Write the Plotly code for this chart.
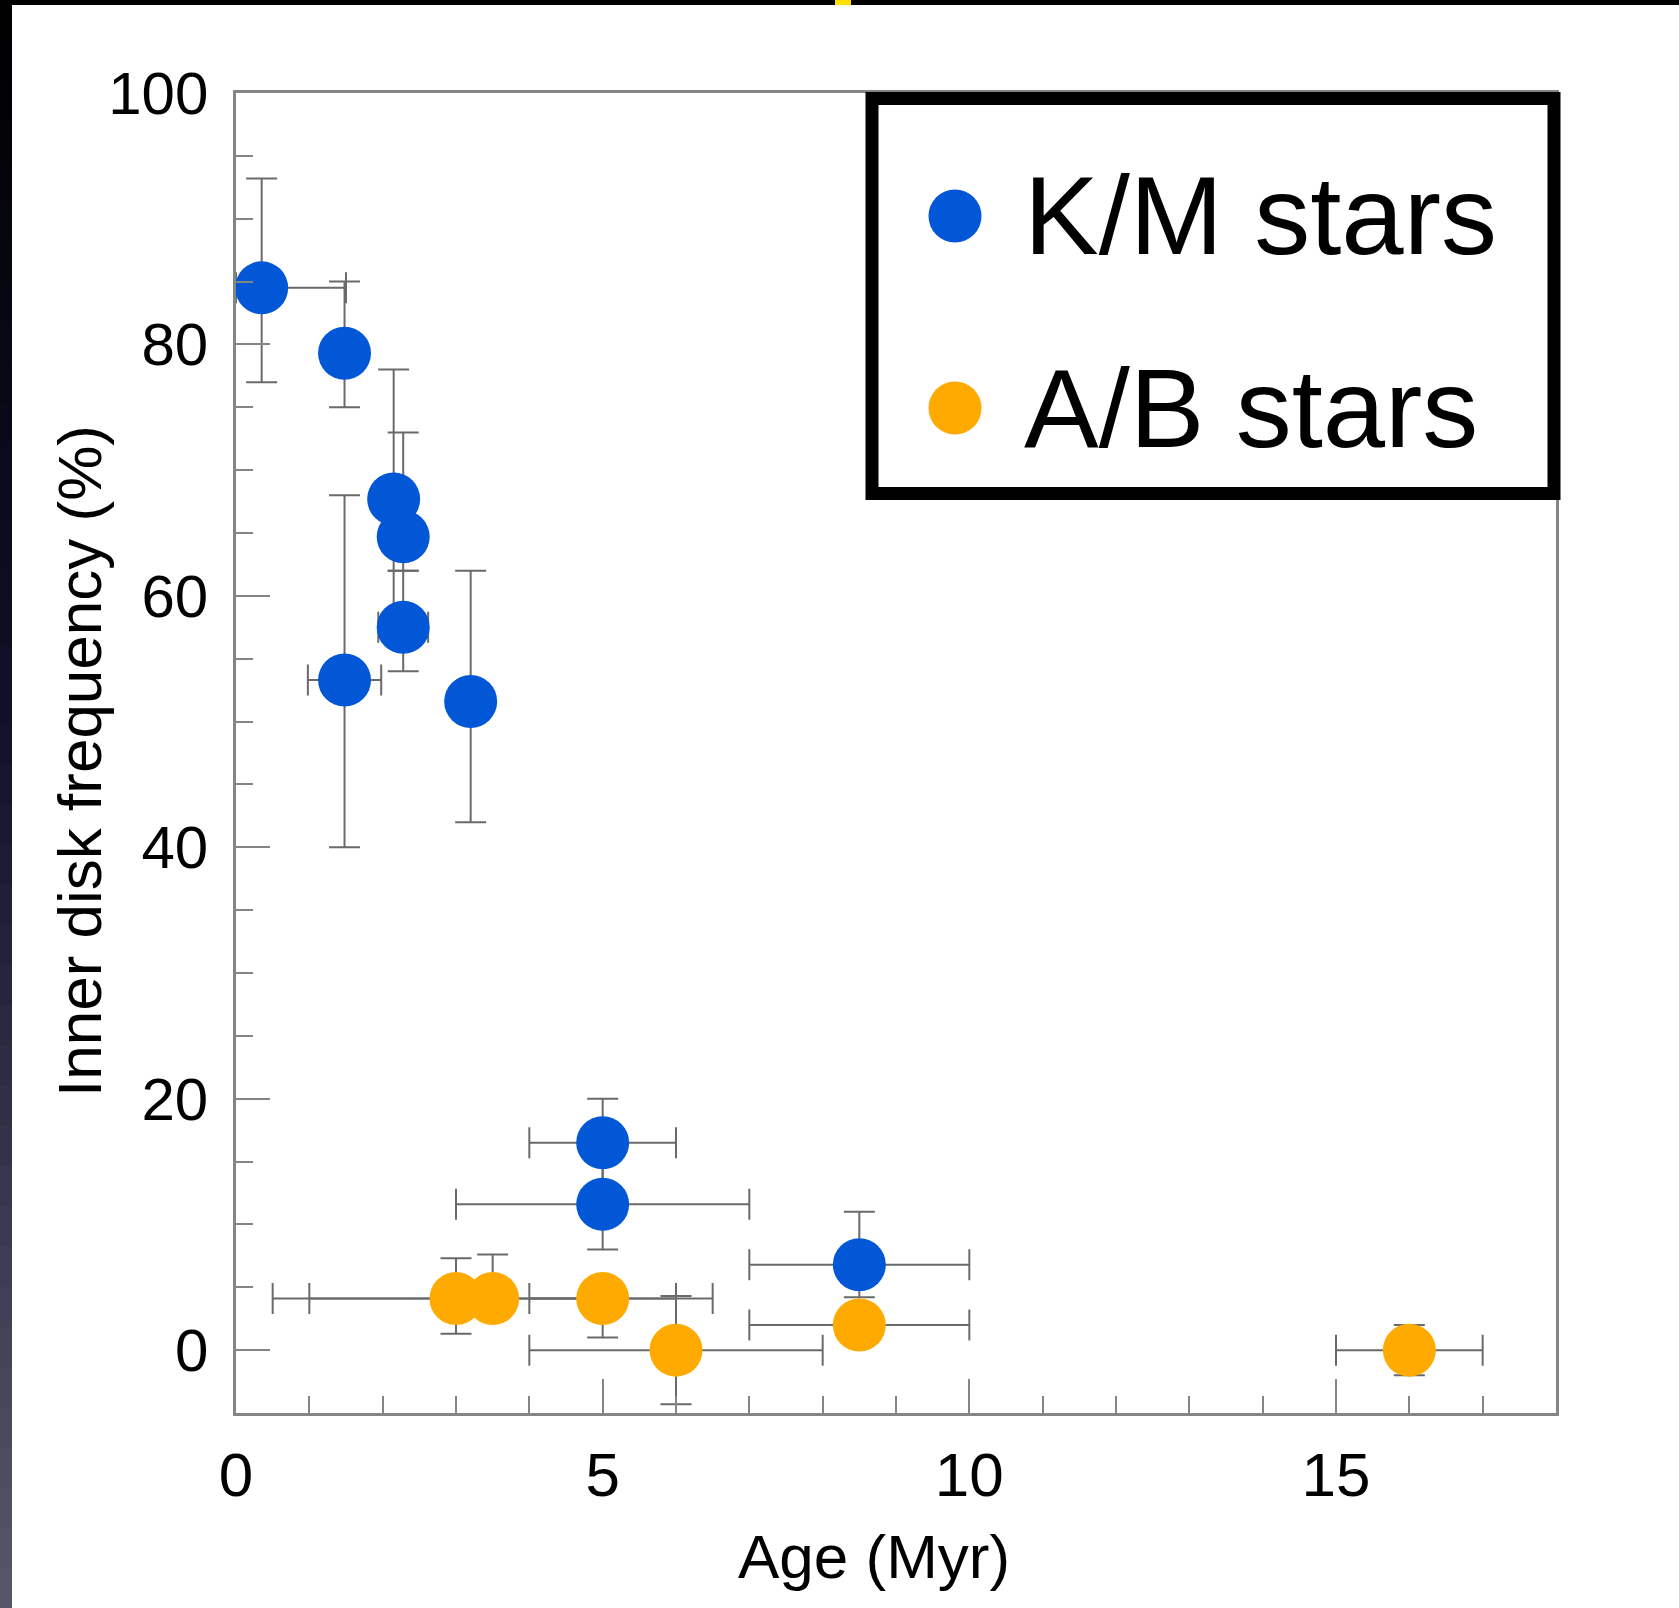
import plotly.graph_objects as go

# ---- data: inner disk frequency vs. cluster age ----
km_age = [0.35, 1.48, 2.15, 2.28, 2.28, 1.48, 3.2, 5.0, 5.0, 8.5]
km_age_hi = [1.15, 0, 0, 0, 0.34, 0.5, 0, 1.0, 2.0, 1.5]
km_age_lo = [0.35, 0, 0, 0, 0.34, 0.5, 0, 1.0, 2.0, 1.5]
km_freq = [84.5, 79.3, 67.7, 64.7, 57.5, 53.3, 51.6, 16.5, 11.6, 6.8]
km_freq_hi = [8.7, 5.7, 10.3, 8.3, 4.5, 14.7, 10.4, 3.5, 3.6, 4.2]
km_freq_lo = [7.5, 4.3, 9.7, 2.7, 3.5, 13.3, 9.6, 3.5, 3.6, 2.6]

ab_age = [3.0, 3.5, 5.0, 6.0, 8.5, 16.0]
ab_age_hi = [2.0, 3.0, 1.0, 2.0, 1.5, 1.0]
ab_age_lo = [2.0, 3.0, 1.0, 2.0, 1.5, 1.0]
ab_freq = [4.1, 4.1, 4.1, 0.0, 2.0, 0.0]
ab_freq_hi = [3.2, 3.5, 0, 4.3, 0, 2.0]
ab_freq_lo = [2.8, 0, 3.1, 4.3, 0, 2.0]

series_names = ["K/M stars", "A/B stars"]
series_colors = ["#0257D6", "#FFAA00"]

x_ticks = [0, 5, 10, 15]
y_ticks = [0, 20, 40, 60, 80, 100]

# ---- page geometry (pixels) ----
FIG_W, FIG_H = 1679, 1608
L, T, W, H = 236, 93, 1320, 1320


def px_x(p):
    return (p - L) / W


def px_y(p):
    return 1 - (p - T) / H


FONT = "Liberation Sans, Arial, Helvetica, sans-serif"
BAR_COLOR = "#6a6a6a"
AXIS_COLOR = "#858585"
MARKER_SIZE = 53


def err(hi, lo):
    return dict(type="data", symmetric=False, array=hi, arrayminus=lo,
                color=BAR_COLOR, thickness=2, width=15.5)


fig = go.Figure()
fig.add_trace(go.Scatter(
    x=km_age, y=km_freq, mode="markers", name=series_names[0],
    marker=dict(size=MARKER_SIZE, color=series_colors[0], line=dict(width=0)),
    error_x=err(km_age_hi, km_age_lo), error_y=err(km_freq_hi, km_freq_lo),
    showlegend=False,
))
fig.add_trace(go.Scatter(
    x=ab_age, y=ab_freq, mode="markers", name=series_names[1],
    marker=dict(size=MARKER_SIZE, color=series_colors[1], line=dict(width=0)),
    error_x=err(ab_age_hi, ab_age_lo), error_y=err(ab_freq_hi, ab_freq_lo),
    showlegend=False,
))

shapes = []

# dark slide edge: top bar and a left strip fading from black to slate
shapes.append(dict(type="rect", xref="paper", yref="paper",
                   x0=px_x(0), x1=px_x(FIG_W), y0=px_y(0), y1=px_y(5),
                   fillcolor="#000000", line=dict(width=0), layer="above"))
shapes.append(dict(type="rect", xref="paper", yref="paper",
                   x0=px_x(835), x1=px_x(851), y0=px_y(0), y1=px_y(5),
                   fillcolor="#FFE000", line=dict(width=0), layer="above"))
stops = [(0.0, (0, 0, 0)), (0.45, (16, 16, 40)), (1.0, (88, 88, 108))]


def strip_color(t):
    for (t0, c0), (t1, c1) in zip(stops[:-1], stops[1:]):
        if t0 <= t <= t1:
            f = (t - t0) / (t1 - t0)
            return "rgb(%d,%d,%d)" % tuple(round(a + (b - a) * f) for a, b in zip(c0, c1))
    return "rgb(%d,%d,%d)" % stops[-1][1]


n_seg = 40
for i in range(n_seg):
    y0 = i * FIG_H / n_seg
    y1 = (i + 1) * FIG_H / n_seg + 1
    shapes.append(dict(type="rect", xref="paper", yref="paper",
                       x0=px_x(0), x1=px_x(12), y0=px_y(y0), y1=px_y(y1),
                       fillcolor=strip_color((i + 0.5) / n_seg),
                       line=dict(width=0), layer="above"))

# legend frame with large swatches
shapes.append(dict(type="rect", xref="paper", yref="paper",
                   x0=px_x(872), x1=px_x(1554), y0=px_y(98.5), y1=px_y(493.5),
                   fillcolor="white", line=dict(color="black", width=13),
                   layer="above"))
annotations = []
for name, color, cy in zip(series_names, series_colors, [216, 408]):
    r = MARKER_SIZE / 2
    shapes.append(dict(type="circle", xref="paper", yref="paper",
                       x0=px_x(955 - r), x1=px_x(955 + r),
                       y0=px_y(cy + r), y1=px_y(cy - r),
                       fillcolor=color, line=dict(width=0), layer="above"))
    annotations.append(dict(text=name, xref="paper", yref="paper",
                            x=px_x(1022), y=px_y(cy), xanchor="left", yanchor="middle",
                            showarrow=False, font=dict(family=FONT, size=112, color="black")))

# axis titles
annotations.append(dict(text="Age (Myr)", xref="paper", yref="paper",
                        x=px_x(874), y=px_y(1556), xanchor="center", yanchor="middle",
                        showarrow=False, font=dict(family=FONT, size=62, color="black")))
annotations.append(dict(text="Inner disk frequency (%)", xref="paper", yref="paper",
                        x=px_x(79), y=px_y(761), xanchor="center", yanchor="middle",
                        textangle=-90, showarrow=False,
                        font=dict(family=FONT, size=62, color="black")))

axis_common = dict(
    showgrid=False, zeroline=False, showline=True, linecolor=AXIS_COLOR, linewidth=2.5,
    mirror=True, ticks="inside", ticklen=34, tickwidth=2, tickcolor=AXIS_COLOR,
    tickfont=dict(family=FONT, color="black"),
)

fig.update_layout(
    width=FIG_W, height=FIG_H,
    margin=dict(l=L, r=FIG_W - L - W, t=T, b=FIG_H - T - H, pad=0),
    paper_bgcolor="white", plot_bgcolor="white",
    xaxis=dict(range=[0, 18], tickmode="array", tickvals=x_ticks,
               ticktext=[str(v) for v in x_ticks],
               minor=dict(dtick=1, tick0=0, ticks="inside", ticklen=17,
                          tickwidth=2, tickcolor=AXIS_COLOR),
               ticklabelstandoff=6, **axis_common),
    yaxis=dict(range=[-5, 100], tickmode="array", tickvals=y_ticks,
               ticktext=[str(v) for v in y_ticks],
               minor=dict(dtick=5, tick0=0, ticks="inside", ticklen=17,
                          tickwidth=2, tickcolor=AXIS_COLOR),
               ticklabelstandoff=13, **axis_common),
    shapes=shapes,
    annotations=annotations,
    showlegend=False,
)
fig.update_xaxes(tickfont_size=62)
fig.update_yaxes(tickfont_size=60)

fig.write_html("out.html")
